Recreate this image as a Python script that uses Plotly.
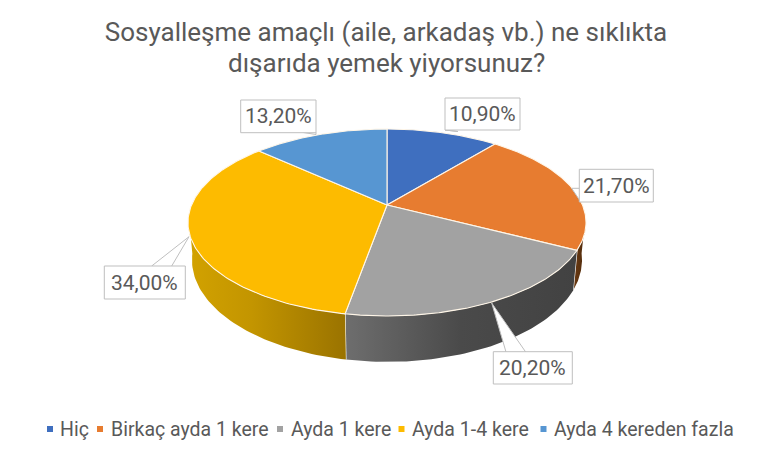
import numpy as np
import plotly.graph_objects as go

# 1. Data
categories = ["Hiç", "Birkaç ayda 1 kere", "Ayda 1 kere", "Ayda 1-4 kere", "Ayda 4 kereden fazla"]
shares = [10.9, 21.7, 20.2, 34.0, 13.2]
colors = ["#3F6FBF", "#E77C30", "#A2A2A2", "#FDBB00", "#5796D2"]
title_line1 = "Sosyalleşme amaçlı (aile, arkadaş vb.) ne sıklıkta"
title_line2 = "dışarıda yemek yiyorsunuz?"

FONT = "Roboto"
TEXT_COLOR = "#595959"

# 2. Pie geometry, everything in page pixels
CX, CY = 387.0, 205.0
AX, BY = 195.5, 90.2
PERSP = 0.187
WALL_FROM, WALL_TO = 97.0, 264.0

wall_fills = [
    None,
    [[0, "#6B3A12"], [1, "#4E2A0C"]],
    [[0, "#6E6E6E"], [0.5, "#4A4A4A"], [1, "#424242"]],
    [[0, "#D2A200"], [0.4, "#C39500"], [1, "#9A7300"]],
    None,
]


def rim(theta_deg):
    t = np.radians(theta_deg)
    u, v = np.sin(t), np.cos(t)
    den = 1 + PERSP * v
    return CX + AX * u / den, CY - BY * v / den


def lower_rim(theta_deg):
    x, y = rim(theta_deg)
    return CX + (x - CX) * 0.98, 290 + 1.09 * (y - 250)


edges = np.concatenate([[0], np.cumsum(shares)]) * 3.6

fig = go.Figure()

# 3. Side wall, only the part facing the viewer
for i in range(len(shares)):
    a, b = max(edges[i], WALL_FROM), min(edges[i + 1], WALL_TO)
    if a >= b or wall_fills[i] is None:
        continue
    th = np.linspace(a, b, 60)
    x1, y1 = rim(th)
    x2, y2 = lower_rim(th[::-1])
    fig.add_trace(go.Scatter(
        x=np.concatenate([x1, x2, x1[:1]]), y=np.concatenate([y1, y2, y1[:1]]),
        mode="lines", fill="toself",
        fillgradient=dict(type="horizontal", colorscale=wall_fills[i]),
        line=dict(color="rgba(255,255,255,0)", width=0),
        hoverinfo="skip", showlegend=False,
    ))
    # white seam where a slice ends on the wall
    if WALL_FROM < b < WALL_TO:
        bx, by = rim(b)
        lx, ly = lower_rim(b)
        fig.add_trace(go.Scatter(x=[bx, lx], y=[by, ly], mode="lines",
                                 line=dict(color="white", width=1.2),
                                 hoverinfo="skip", showlegend=False))

# 4. Top face of the pie
for i in range(len(shares)):
    th = np.linspace(edges[i], edges[i + 1], 120)
    x, y = rim(th)
    fig.add_trace(go.Scatter(
        x=np.concatenate([[CX], x, [CX]]), y=np.concatenate([[CY], y, [CY]]),
        mode="lines", fill="toself", fillcolor=colors[i],
        line=dict(color="#FFF6E8", width=1.1),
        name=categories[i], hoverinfo="name", showlegend=False,
    ))

# 5. Callouts behind the data labels
callouts = [
    ([445, 458, 445], [130, 131.5, 130]),
    ([579.3, 571.7, 580.5], [188.3, 188.3, 201.5]),
    ([506, 491.7, 525.7], [352, 303, 352]),
    ([151.7, 189, 171.7], [266, 236.7, 266]),
    ([303.3, 316, 316], [132.5, 134.5, 132.5]),
]
for cx, cy in callouts:
    fig.add_trace(go.Scatter(x=cx, y=cy, mode="lines", fill="toself", fillcolor="white",
                             line=dict(color="#BFBFBF", width=1),
                             hoverinfo="skip", showlegend=False))

# 6. Data labels
label_boxes = [(445, 520, 98, 130), (579.3, 653.3, 169.3, 202), (493.3, 572.3, 351.7, 384),
               (104.3, 185.3, 266, 299), (240.7, 316, 100, 132.7)]
shapes = []
annotations = []
for share, (x0, x1, y0, y1) in zip(shares, label_boxes):
    shapes.append(dict(type="rect", xref="x", yref="y", x0=x0, x1=x1, y0=y0, y1=y1,
                       fillcolor="white", line=dict(color="#BFBFBF", width=1), layer="above"))
    annotations.append(dict(x=(x0 + x1) / 2, y=(y0 + y1) / 2, xref="x", yref="y",
                            text=f"{share:.2f}%".replace(".", ","), showarrow=False,
                            font=dict(family=FONT, size=21, color=TEXT_COLOR)))

# 7. Legend row, laid out by hand because the native one has too much space around the swatches
legend_marker_x = [50, 100, 280, 401.5, 543.5]
legend_text_x = [58, 109, 289, 410, 552]
LEGEND_Y = 429
fig.add_trace(go.Scatter(x=legend_marker_x, y=[LEGEND_Y] * len(categories), mode="markers",
                         marker=dict(symbol="square", size=6, color=colors),
                         hoverinfo="skip", showlegend=False))
for name, tx in zip(categories, legend_text_x):
    annotations.append(dict(x=tx, y=LEGEND_Y, xref="x", yref="y", text=name, showarrow=False,
                            xanchor="left", yanchor="middle",
                            font=dict(family=FONT, size=19.5, color=TEXT_COLOR)))

# second title line sits closer than plotly's line height allows
annotations.append(dict(x=386, y=62.5, xref="x", yref="y", text=title_line2, showarrow=False,
                        xanchor="center", yanchor="middle",
                        font=dict(family=FONT, size=26, color=TEXT_COLOR)))

fig.update_layout(
    width=772, height=461,
    margin=dict(l=0, r=0, t=0, b=0),
    paper_bgcolor="white", plot_bgcolor="white",
    font=dict(family=FONT, color=TEXT_COLOR),
    title=dict(text=title_line1, x=0.5, xanchor="center", y=1 - 32 / 461, yanchor="middle",
               font=dict(family=FONT, size=26, color=TEXT_COLOR)),
    xaxis=dict(range=[0, 772], visible=False, fixedrange=True),
    yaxis=dict(range=[461, 0], visible=False, fixedrange=True),
    showlegend=False,
    shapes=shapes, annotations=annotations,
)

fig.write_html("out.html", config={"displayModeBar": False},
               post_script="document.body.style.margin='0';")
